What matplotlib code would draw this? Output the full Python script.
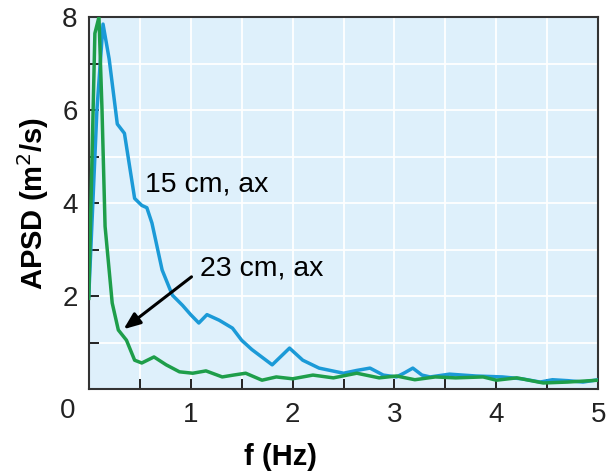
import matplotlib.pyplot as plt
from matplotlib.ticker import MultipleLocator

# 15 cm, ax (blue)
blue_f = [0.0, 0.08, 0.14, 0.2, 0.28, 0.35, 0.45, 0.52, 0.57, 0.62, 0.72, 0.82, 0.92, 1.0,
          1.08, 1.16, 1.28, 1.41, 1.5, 1.6, 1.8, 1.97, 2.1, 2.26, 2.5, 2.63, 2.76, 2.89,
          3.02, 3.1, 3.18, 3.27, 3.35, 3.54, 3.8, 4.06, 4.25, 4.43, 4.55, 4.7, 4.85, 5.0]
blue_v = [2.0, 6.0, 7.85, 7.1, 5.7, 5.5, 4.1, 3.95, 3.9, 3.57, 2.56, 2.02, 1.8, 1.6,
          1.42, 1.6, 1.48, 1.31, 1.05, 0.85, 0.52, 0.88, 0.62, 0.45, 0.34, 0.4, 0.45, 0.3,
          0.26, 0.35, 0.45, 0.3, 0.26, 0.32, 0.28, 0.26, 0.22, 0.15, 0.2, 0.18, 0.15, 0.2]

# 23 cm, ax (green)
green_f = [0.0, 0.06, 0.1, 0.13, 0.16, 0.23, 0.29, 0.37, 0.45, 0.52, 0.64, 0.76, 0.89, 1.02,
           1.15, 1.31, 1.42, 1.54, 1.7, 1.84, 2.0, 2.2, 2.4, 2.63, 2.85, 3.02, 3.2, 3.4,
           3.6, 3.87, 4.0, 4.2, 4.46, 4.7, 5.0]
green_v = [1.95, 7.65, 8.0, 6.0, 3.5, 1.85, 1.27, 1.05, 0.62, 0.56, 0.69, 0.52, 0.37, 0.34,
           0.39, 0.26, 0.3, 0.34, 0.19, 0.26, 0.22, 0.3, 0.24, 0.34, 0.24, 0.28, 0.2, 0.26,
           0.24, 0.26, 0.19, 0.24, 0.13, 0.15, 0.19]

plt.rcParams['font.family'] = ['Liberation Sans', 'DejaVu Sans']

fig = plt.figure(figsize=(6.08, 4.75), dpi=100)
ax = fig.add_axes([0.146, 0.181, 0.838, 0.783])
ax.set_facecolor('#def0fb')

ax.plot(blue_f, blue_v, color='#1b9ad7', lw=2.5, zorder=3)
ax.plot(green_f, green_v, color='#1e9e4a', lw=2.5, zorder=4)

ax.set_xlim(0, 5)
ax.set_ylim(0, 8)
ax.xaxis.set_major_locator(MultipleLocator(1))
ax.xaxis.set_minor_locator(MultipleLocator(0.5))
ax.yaxis.set_major_locator(MultipleLocator(2))
ax.yaxis.set_minor_locator(MultipleLocator(1))
ax.grid(True, which='both', color='white', lw=1.3, zorder=1)
ax.set_axisbelow(True)

ax.tick_params(which='both', direction='in', length=7, width=1.4, color='#222222',
               labelsize=20, labelcolor='#222222')
ax.tick_params(axis='x', pad=9)
ax.tick_params(axis='y', pad=8)
ax.set_xticks([1, 2, 3, 4, 5])
ax.set_yticks([2, 4, 6, 8])
for s in ax.spines.values():
    s.set_color('#333333')
    s.set_linewidth(1.5)

# shared corner zero
ax.annotate('0', xy=(0, 0), xytext=(-15, -16), textcoords='offset points',
            ha='center', va='center', fontsize=20, color='#222222',
            annotation_clip=False)

ax.set_xlabel('f (Hz)', fontsize=21, fontweight='bold', va='center')
ax.xaxis.set_label_coords(0.377, -0.183)
ax.set_ylabel('APSD (m$^2$/s)', fontsize=21, fontweight='bold', labelpad=8)

ax.text(0.55, 4.4, '15 cm, ax', fontsize=20.5, va='center', ha='left', zorder=5)
ax.text(1.09, 2.6, '23 cm, ax', fontsize=20.5, va='center', ha='left', zorder=5)
ax.annotate('', xy=(0.32, 1.25), xytext=(1.03, 2.45),
            arrowprops=dict(arrowstyle='-|>,head_length=1.0,head_width=0.4',
                            color='black', lw=2.2), zorder=6)

fig.savefig('out.png', dpi=100)
